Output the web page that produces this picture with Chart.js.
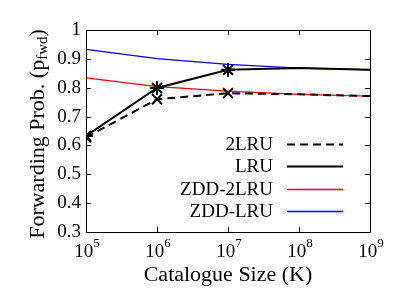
<!DOCTYPE html>
<html><head><meta charset="utf-8">
<script src="https://cdn.jsdelivr.net/npm/chart.js@4/dist/chart.umd.min.js"></script>
<style>html,body{margin:0;padding:0;background:#fff}#wrap{width:415px;height:292px}</style>
</head><body><div id="wrap"><canvas id="c" width="415" height="292"></canvas></div>
<script>
const catalogueSizes = [1e5, 1e6, 1e7, 1e8, 1e9];
const xTickExponents = [5, 6, 7, 8, 9];
const yTicks = [0.3, 0.4, 0.5, 0.6, 0.7, 0.8, 0.9, 1.0];
const seriesNames = ['2LRU', 'LRU', 'ZDD-2LRU', 'ZDD-LRU'];
const val2LRU = [0.628, 0.760, 0.781, 0.777, 0.771];
const valLRU = [0.633, 0.799, 0.862, 0.868, 0.862];
const valZDD2LRU = [0.834, 0.804, 0.788, 0.777, 0.771];
const valZDDLRU = [0.933, 0.901, 0.881, 0.868, 0.862];

const SERIF = "'Liberation Serif', 'Times New Roman', serif";
const pts = arr => catalogueSizes.map((x, i) => ({x, y: arr[i]}));
const markR = [7, 7, 7, 0, 0];

const datasets = [
  {label: seriesNames[3], data: pts(valZDDLRU), borderColor: '#0000ff', borderWidth: 1.3, pointRadius: 0, order: 4},
  {label: seriesNames[2], data: pts(valZDD2LRU), borderColor: '#ff0000', borderWidth: 1.3, pointRadius: 0, order: 3},
  {label: seriesNames[0], data: pts(val2LRU), borderColor: '#000', borderWidth: 2, borderDash: [8, 5],
   pointStyle: 'crossRot', pointRadius: markR, pointBorderWidth: 2, pointBorderColor: '#000', order: 2},
  {label: seriesNames[1], data: pts(valLRU), borderColor: '#000', borderWidth: 2,
   pointStyle: 'star', pointRadius: markR, pointBorderWidth: 2, pointBorderColor: '#000', order: 1}
];

const decor = {
  id: 'decor',
  afterDraw(chart) {
    const ctx = chart.ctx, a = chart.chartArea, xs = chart.scales.x, ys = chart.scales.y;
    ctx.save();
    ctx.strokeStyle = '#000'; ctx.lineWidth = 1;
    ctx.strokeRect(Math.round(a.left) + 0.5, Math.round(a.top) + 0.5, Math.round(a.right - a.left), Math.round(a.bottom - a.top));
    const tl = 5;
    ctx.beginPath();
    yTicks.forEach(v => {
      const y = Math.round(ys.getPixelForValue(v)) + 0.5;
      ctx.moveTo(a.left, y); ctx.lineTo(a.left + tl, y);
      ctx.moveTo(a.right, y); ctx.lineTo(a.right - tl, y);
    });
    catalogueSizes.forEach(v => {
      const x = Math.round(xs.getPixelForValue(v)) + 0.5;
      ctx.moveTo(x, a.bottom); ctx.lineTo(x, a.bottom - tl);
      ctx.moveTo(x, a.top); ctx.lineTo(x, a.top + tl);
    });
    ctx.stroke();
    // x tick labels 10^n
    ctx.fillStyle = '#000';
    ctx.textBaseline = 'alphabetic';
    catalogueSizes.forEach((v, i) => {
      const x = xs.getPixelForValue(v);
      ctx.font = '19px ' + SERIF;
      const w1 = ctx.measureText('10').width;
      ctx.font = '13px ' + SERIF;
      const w2 = ctx.measureText(String(xTickExponents[i])).width;
      const x0 = x - (w1 + w2) / 2 + 1;
      ctx.font = '19px ' + SERIF;
      ctx.textAlign = 'left';
      ctx.fillText('10', x0, a.bottom + 25);
      ctx.font = '13px ' + SERIF;
      ctx.fillText(String(xTickExponents[i]), x0 + w1, a.bottom + 15);
    });
    // y title with subscript
    ctx.translate(38, 134);
    ctx.rotate(-Math.PI / 2);
    const big = '22px ' + SERIF, small = '15px ' + SERIF;
    const p1 = 'Forwarding Prob. (p', p2 = 'fwd', p3 = ')';
    ctx.font = big; const w1 = ctx.measureText(p1).width, w3 = ctx.measureText(p3).width;
    ctx.font = small; const w2 = ctx.measureText(p2).width;
    let x = -(w1 + w2 + w3) / 2;
    ctx.textBaseline = 'middle'; ctx.textAlign = 'left';
    ctx.font = big; ctx.fillText(p1, x, 0); x += w1;
    ctx.font = small; ctx.fillText(p2, x, 5); x += w2;
    ctx.font = big; ctx.fillText(p3, x, 0);
    ctx.restore();
    // legend
    ctx.save();
    const rows = [2, 3, 1, 0]; // dataset indices in legend order
    ctx.font = '19px ' + SERIF;
    ctx.textAlign = 'right'; ctx.textBaseline = 'middle';
    rows.forEach((di, r) => {
      const ds = chart.data.datasets[di];
      const y = 144 + r * 22.3;
      ctx.fillStyle = '#000';
      ctx.fillText(ds.label, 273, y + 1);
      ctx.strokeStyle = ds.borderColor; ctx.lineWidth = ds.borderWidth;
      ctx.setLineDash(ds.borderDash || []);
      ctx.beginPath(); ctx.moveTo(287, Math.round(y) + 0.5); ctx.lineTo(343, Math.round(y) + 0.5); ctx.stroke();
    });
    ctx.restore();
  }
};

new Chart(document.getElementById('c'), {
  type: 'line',
  data: {datasets},
  plugins: [decor],
  options: {
    responsive: false, animation: false, devicePixelRatio: 1,
    layout: {padding: {top: 30, right: 45, left: 0, bottom: 0}},
    plugins: {legend: {display: false}, tooltip: {enabled: false}},
    elements: {line: {tension: 0}},
    scales: {
      x: {
        type: 'logarithmic', min: 1e5, max: 1e9,
        afterBuildTicks: s => { s.ticks = catalogueSizes.map(v => ({value: v})); },
        ticks: {display: false},
        grid: {display: false, drawTicks: false}, border: {display: false},
        title: {display: true, text: 'Catalogue Size (K)', color: '#000', font: {family: SERIF, size: 22}, padding: {top: 0, bottom: 4}},
        afterFit: s => { s.height = 60; }
      },
      y: {
        min: 0.3, max: 1,
        afterBuildTicks: s => { s.ticks = yTicks.map(v => ({value: v})); },
        ticks: {color: '#000', font: {family: SERIF, size: 19}, padding: 5,
          callback: v => (Math.abs(v - 1) < 1e-9 ? '1' : Number(v).toFixed(1))},
        grid: {display: false, drawTicks: false}, border: {display: false},
        afterFit: s => { s.width = 86; }
      }
    }
  }
});
</script></body></html>
